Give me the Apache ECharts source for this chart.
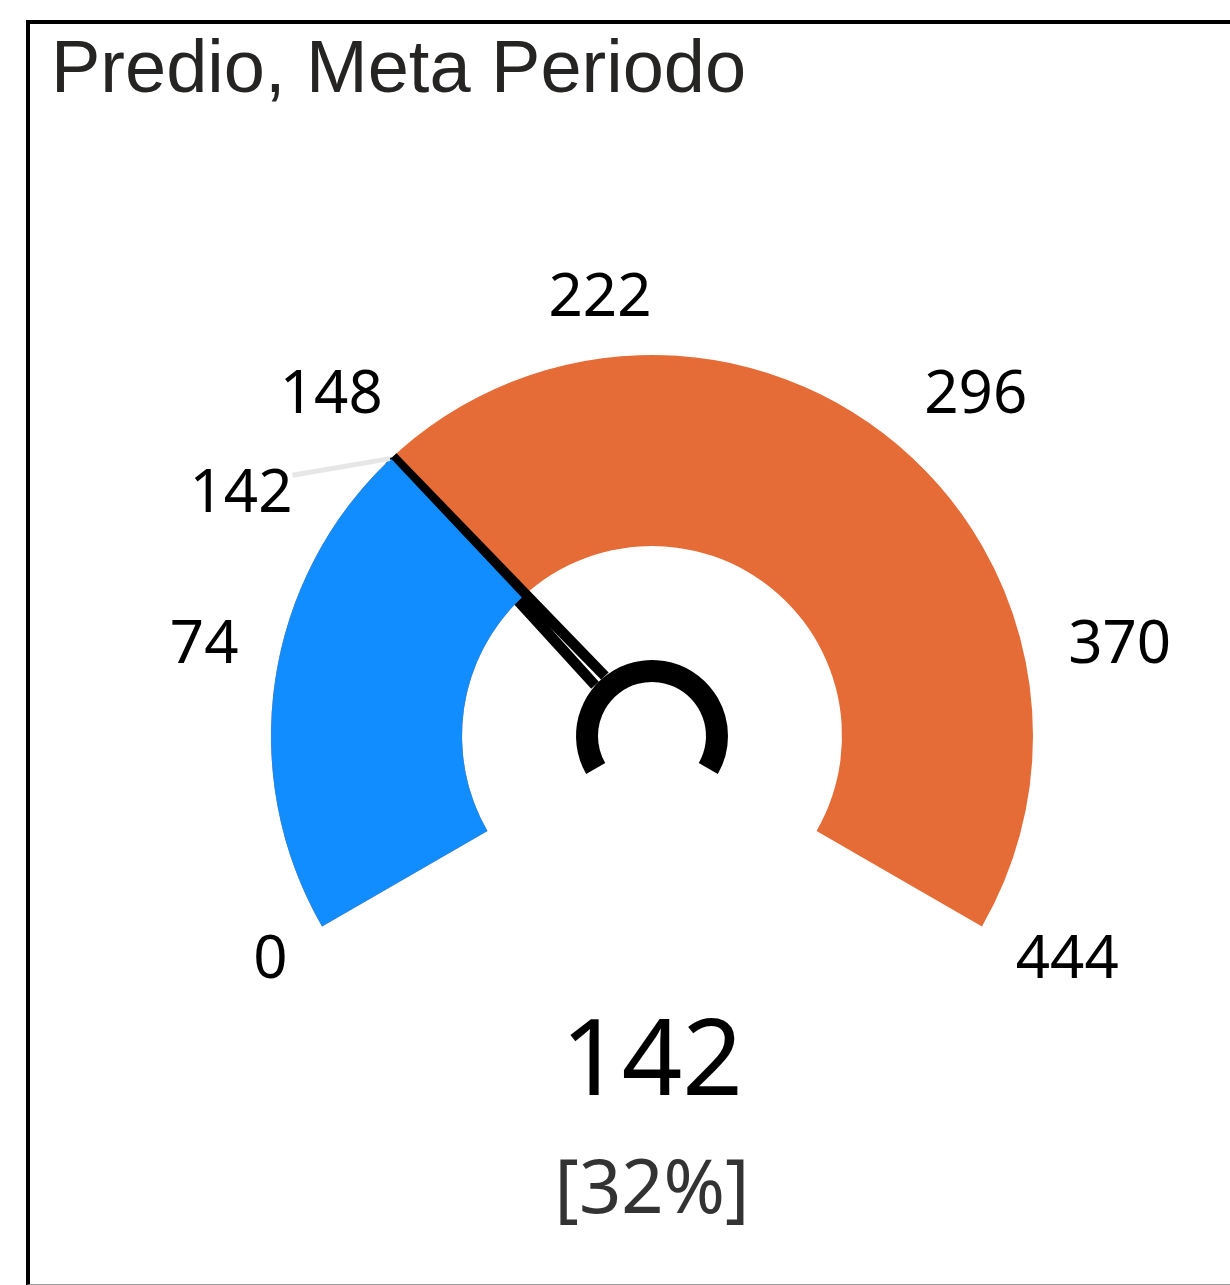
<!DOCTYPE html>
<html>
<head>
<meta charset="utf-8">
<script src="https://cdn.jsdelivr.net/npm/echarts@6/dist/echarts.min.js"></script>
<style>
  html, body { margin: 0; padding: 0; background: #fff; }
  #chart { position: absolute; left: 0; top: 0; width: 1230px; height: 1285px; }
  #frame {
    position: absolute; left: 26px; top: 20px; width: 1210px; height: 1265px;
    box-sizing: border-box; pointer-events: none;
    border-left: 4px solid #000; border-top: 4px solid #000; border-bottom: 1px solid #9a9a9a;
  }
</style>
</head>
<body>
<div id="chart"></div>
<div id="frame"></div>
<script>
// ---- data ----
const titleText = 'Predio, Meta Periodo';
const gaugeMin = 0;
const gaugeMax = 444;
const actualValue = 142;
const tickValues = [0, 74, 148, 222, 296, 370, 444];

// ---- styles ----
const blue = '#118DFF';
const orange = '#E66C37';
const labelFont = "'Noto Sans', 'Open Sans', sans-serif";
const center = [652, 736];

// per-tick nudges of the scale labels [top, right, bottom, left]
const tickPadding = [
  [0, 0, 0, -9],
  [0, 0, 24, -39],
  [10, 0, 0, -83],
  [-17, 104, 0, 0],
  [10, -86, 0, 0],
  [0, -76, 24, 0],
  [0, -77, 0, 0]
];
const tickRich = {};
tickPadding.forEach((p, i) => {
  tickRich['t' + i] = { padding: p, color: '#000', fontSize: 60, fontFamily: labelFont };
});

// needle: tapered bar with a thin slit near its base
const needlePath = 'path://M3 0L13 0L16 305L0 305ZM8 232L7 305L9 305Z';

const chart = echarts.init(document.getElementById('chart'));
chart.setOption({
  animation: false,
  backgroundColor: '#fff',
  title: {
    text: titleText,
    left: 46,
    top: 30,
    textStyle: { fontFamily: "'Liberation Sans', Arial, sans-serif", fontSize: 74, fontWeight: 'normal', color: '#252423' }
  },
  polar: { center: center, radius: 381 },
  angleAxis: { type: 'value', min: gaugeMin, max: gaugeMax, startAngle: 210, endAngle: -30, show: false },
  radiusAxis: { type: 'value', min: 0, max: 1, show: false },
  series: [
    {
      type: 'gauge',
      center: center,
      radius: 381,
      min: gaugeMin,
      max: gaugeMax,
      splitNumber: tickValues.length - 1,
      startAngle: 210,
      endAngle: -30,
      axisLine: { lineStyle: { width: 191, color: [[1, orange]] } },
      progress: { show: true, width: 191, roundCap: false, itemStyle: { color: blue } },
      axisTick: { show: false },
      splitLine: { show: false, length: 0, distance: 0 },
      axisLabel: {
        distance: -69,
        color: '#000',
        fontSize: 60,
        fontFamily: labelFont,
        formatter: v => {
          const i = tickValues.indexOf(Math.round(v));
          return '{t' + i + '|' + v + '}';
        },
        rich: tickRich
      },
      pointer: {
        icon: needlePath,
        length: 305,
        width: 24,
        offsetCenter: [0, -76],
        itemStyle: { color: '#000' }
      },
      anchor: { show: false },
      title: { show: false },
      detail: {
        offsetCenter: [0, 386],
        formatter: v => '{v|' + v + '}\n{p|[' + Math.round(v / gaugeMax * 100) + '%]}',
        rich: {
          v: { fontSize: 106, lineHeight: 140, color: '#000', fontWeight: 'normal', fontFamily: labelFont },
          p: { fontSize: 74, lineHeight: 114, color: '#333', fontWeight: 'normal', fontFamily: labelFont }
        }
      },
      data: [{ value: actualValue }]
    },
    {
      // hub ring
      type: 'gauge',
      center: center,
      radius: 76,
      min: gaugeMin,
      max: gaugeMax,
      startAngle: 210,
      endAngle: -30,
      axisLine: { lineStyle: { width: 22, color: [[1, '#000']] } },
      axisTick: { show: false },
      splitLine: { show: false },
      axisLabel: { show: false },
      pointer: { show: false },
      anchor: { show: false },
      title: { show: false },
      detail: { show: false },
      data: [{ value: actualValue }]
    },
    {
      // value callout at the needle tip
      type: 'scatter',
      coordinateSystem: 'polar',
      symbol: 'circle',
      symbolSize: 2,
      itemStyle: { color: '#000', opacity: 1 },
      label: {
        show: true,
        position: 'inside',
        color: '#000',
        textBorderWidth: 0,
        formatter: p => '{e| }\n{c|' + p.value[1] + '}',
        rich: {
          e: { fontSize: 1, lineHeight: 54, color: '#000' },
          c: { fontSize: 60, lineHeight: 82, fontFamily: labelFont, color: '#000' }
        }
      },
      labelLayout: { dx: -150, dy: 9 },
      labelLine: { show: true, lineStyle: { color: '#E6E6E6', width: 5, opacity: 1 } },
      data: [[1, actualValue]]
    }
  ]
});
</script>
</body>
</html>
